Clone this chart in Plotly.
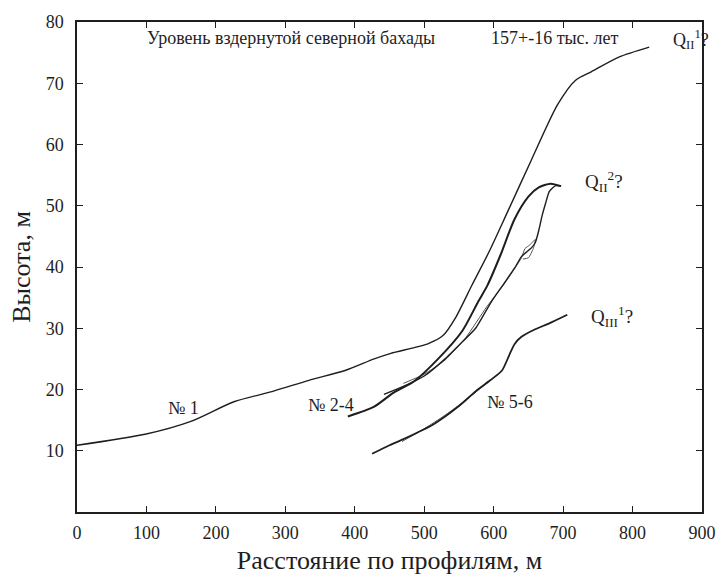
import plotly.graph_objects as go

# Profile No.1 (upper long curve)
p1_x = [0, 98, 164, 226, 282, 334, 386, 428, 452, 506, 527, 545, 569, 593, 620, 654, 692, 718, 741, 781, 824]
p1_y = [10.9, 12.7, 14.8, 18.0, 19.7, 21.5, 23.1, 25.0, 25.9, 27.5, 28.8, 31.7, 37.1, 42.4, 49.0, 57.4, 66.5, 70.5, 71.9, 74.3, 75.9]

# Profiles No.2-4
p2_x = [390, 428, 456, 485, 520, 555, 578, 591, 610, 630, 650, 665, 682, 697]
p2_y = [15.6, 17.2, 19.5, 21.3, 25.0, 29.6, 34.4, 37.0, 42.0, 47.8, 51.5, 53.0, 53.6, 53.2]

p3_x = [442, 470, 500, 530, 555, 574, 597, 616, 630, 640, 648, 655, 660, 665, 670, 675, 680, 689, 697]
p3_y = [19.2, 20.5, 22.2, 25.0, 27.8, 30.0, 34.4, 37.5, 39.8, 41.7, 42.5, 43.2, 44.0, 46.0, 48.5, 50.5, 52.3, 53.3, 53.2]

p4_x = [470, 500, 530, 560, 590, 615, 640, 645, 652, 660, 657, 650, 642]
p4_y = [21.0, 22.5, 24.8, 28.5, 33.5, 37.2, 41.5, 43.0, 43.6, 44.5, 43.0, 41.5, 41.3]

# Profiles No.5-6
p5_x = [425, 450, 470, 513, 550, 575, 595, 612, 622, 630, 640, 659, 680, 706]
p5_y = [9.5, 10.9, 11.9, 14.3, 17.3, 19.8, 21.5, 23.1, 25.5, 27.4, 28.6, 29.8, 30.8, 32.2]

p6_x = [468, 500, 530, 560, 590, 610]
p6_y = [11.5, 13.6, 15.8, 18.3, 21.0, 22.8]

x_ticks = [0, 100, 200, 300, 400, 500, 600, 700, 800, 900]
y_ticks = [10, 20, 30, 40, 50, 60, 70, 80]

FONT = "Liberation Serif"
INK = "#1e1e1e"
fig = go.Figure()

def add(x, y, w, c=INK, smooth=0.7):
    fig.add_trace(go.Scatter(x=x, y=y, mode="lines",
                             line=dict(color=c, width=w, shape="spline", smoothing=smooth),
                             showlegend=False, hoverinfo="skip"))

add(p1_x, p1_y, 1.4)
add(p4_x, p4_y, 1.0, "#555555", 0.5)
add(p3_x, p3_y, 1.4, INK, 0.5)
add(p2_x, p2_y, 2.0)
add(p6_x, p6_y, 1.0, "#555555")
add(p5_x, p5_y, 1.8)

ann = [
    ("Уровень вздернутой северной бахады", 308, 77.4, 18),
    ("157+-16 тыс. лет", 688, 77.4, 18),
    ("Q<sub>II</sub><sup>1</sup>?", 884, 77.2, 18),
    ("Q<sub>II</sub><sup>2</sup>?", 759, 54.0, 19),
    ("Q<sub>III</sub><sup>1</sup>?", 770, 32.0, 19),
    ("№ 1", 153, 17.0, 18),
    ("№ 2-4", 366, 17.5, 18),
    ("№ 5-6", 623, 18.0, 18),
]
for t, x, y, s in ann:
    fig.add_annotation(x=x, y=y, text=t, showarrow=False,
                       font=dict(family=FONT, size=s, color=INK))

axis_common = dict(showline=True, linecolor=INK, linewidth=1.5, mirror="ticks",
                   ticks="inside", ticklen=6, tickwidth=1.2, tickcolor=INK,
                   showgrid=False, zeroline=False,
                   tickfont=dict(family=FONT, size=18, color=INK))

fig.update_layout(
    width=728, height=582,
    margin=dict(l=77, r=14, t=16, b=68),
    paper_bgcolor="white", plot_bgcolor="white",
    xaxis=dict(range=[0, 900], tickvals=x_ticks, ticklabelstandoff=4,
               title=dict(text="Расстояние по профилям, м", font=dict(family=FONT, size=26, color=INK), standoff=8),
               **axis_common),
    yaxis=dict(range=[0, 80], tickvals=y_ticks, ticklabelstandoff=8,
               title=dict(text="Высота, м", font=dict(family=FONT, size=26, color=INK), standoff=8),
               **axis_common),
)

fig.write_html("out.html")
